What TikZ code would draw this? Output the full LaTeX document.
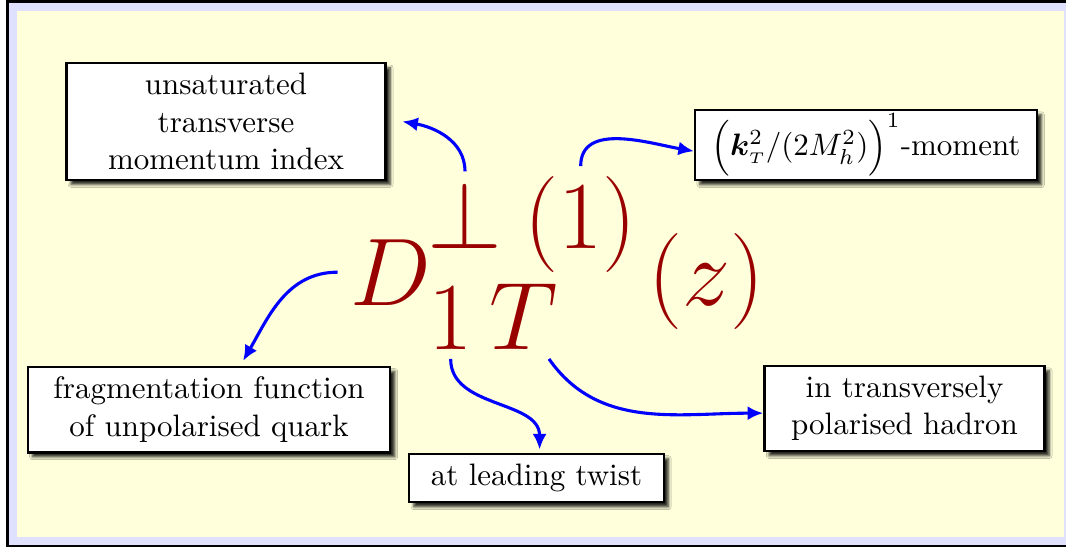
\documentclass[tikz,border=0pt]{standalone}
\usepackage{fix-cm}
\usepackage{amsmath,bm}
\usetikzlibrary{arrows.meta, positioning, shadows.blur, calc}
\definecolor{colorFormula}{HTML}{990000}
\definecolor{colorArrow}{HTML}{0000FF}
\definecolor{frameLilac}{HTML}{E0E0FF}
\definecolor{paperCream}{HTML}{FFFFDC}

\begin{document}
\begin{tikzpicture}[x=0.3226pt, y=-0.3226pt,
        note/.style={draw=black, line width=0.8pt, fill=white, align=center,
            inner xsep=7pt, inner ysep=3.3pt, font=\normalsize,
            blur shadow={shadow xshift=1.5pt, shadow yshift=-1.5pt, shadow opacity=85,
                shadow blur steps=5, shadow blur radius=0.9pt}},
        sym/.style={text=colorFormula, inner sep=0pt, font=\fontsize{31}{36}\selectfont},
        link/.style={-{Latex[length=5pt,width=4.5pt]}, colorArrow, line width=1pt}
    ]
        \useasboundingbox (0,0) rectangle (1066,549);
        % frame
        \draw[line width=0.8pt, fill=frameLilac] (7.5,1.5) rectangle (1100,546);
        \fill[paperCream] (17,11) rectangle (1063.5,537);

        % the symbol, piece by piece
        \node[sym, anchor=base west] (Dsym) at (350,305) {$D$};
        \node[sym, anchor=base west] (perp) at (427,248) {$\perp$};
        \node[sym, anchor=base west] (mom) at (524,248) {$(1)$};
        \node[sym, anchor=base west] (one) at (428,349) {$1$};
        \node[sym, anchor=base west, xshift=5pt] (Tsym) at (one.base east) {$T$};
        \node[sym, anchor=base west] (zarg) at (648,305) {$(z)$};

        % notes
        \node[note, text width=89pt] (unsat) at (226,121.5) {unsaturated\\transverse\\momentum index};
        \node[note, inner xsep=5.3pt, inner ysep=1.3pt] (moment) at (866,145)
            {$\Bigl(\boldsymbol{k}^2_{\scriptscriptstyle T}/(2M_h^2)\Bigr)^1$-moment};
        \node[note, inner xsep=8.3pt] (frag) at (209,409.5) {fragmentation function\\of unpolarised quark};
        \node[note, inner xsep=8.6pt] (hadron) at (904.5,408.5) {in transversely\\polarised hadron};
        \node[note] (twist) at (536.5,478) {at leading twist};

        \draw[link] ([yshift=3pt]perp.north) to[out=90, in=-10] ([xshift=5pt]unsat.east);
        \draw[link] ([yshift=3pt]mom.north) to[out=90, in=170] ([yshift=-2pt]moment.west);
        \draw[link] ([xshift=-4pt]Dsym.west) to[out=180, in=60] ([xshift=11pt,yshift=1.5pt]frag.north);
        \draw[link] ([yshift=-3pt]one.south) to[out=-90, in=90] ([xshift=1pt,yshift=1pt]twist.north);
        \draw[link] ([xshift=-3pt,yshift=-3pt]Tsym.south east) to[out=-55, in=180] ([yshift=-1.5pt]hadron.west);
    \end{tikzpicture}
\end{document}
